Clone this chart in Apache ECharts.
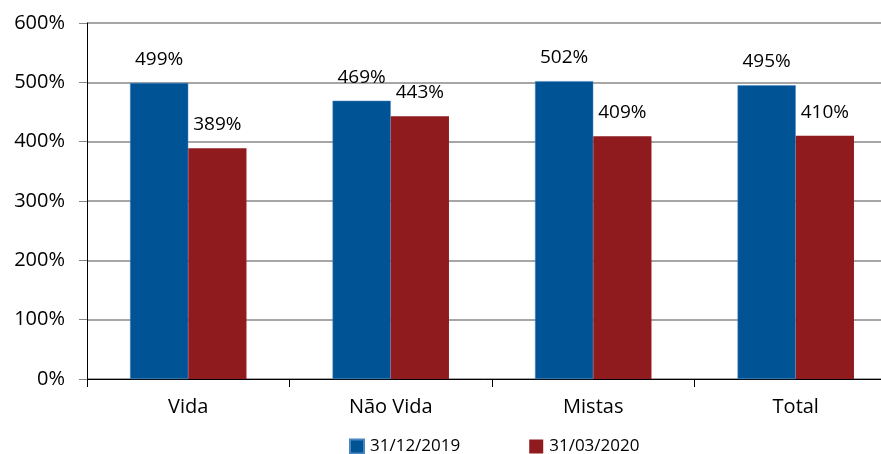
<!DOCTYPE html>
<html><head><meta charset="utf-8">
<script src="https://cdn.jsdelivr.net/npm/echarts@6/dist/echarts.min.js"></script>
<style>html,body{margin:0;padding:0;background:#fff}#c{width:881px;height:454px}</style>
</head><body><div id="c"></div>
<script>
var categories = ['Vida', 'Não Vida', 'Mistas', 'Total'];
var seriesNames = ['31/12/2019', '31/03/2020'];
var values2019 = [499, 469, 502, 495];
var values2020 = [389, 443, 409, 410];
var yTicks = [0, 100, 200, 300, 400, 500, 600];

var font = 'Open Sans';
var chart = echarts.init(document.getElementById('c'));
chart.setOption({
  animation: false,
  textStyle: {fontFamily: font},
  grid: {left: 87, width: 810, top: 23, bottom: 75, containLabel: false, outerBoundsMode: 'none'},
  legend: {
    bottom: -6, left: 344, itemWidth: 14, itemHeight: 14, itemGap: 69,
    icon: 'rect',
    textStyle: {fontFamily: font, fontSize: 17, color: '#000', padding: [0, 0, 0, 1]},
    data: seriesNames
  },
  xAxis: {
    type: 'category', data: categories,
    axisLine: {lineStyle: {color: '#000', width: 1}},
    axisTick: {show: true, length: 8, lineStyle: {color: '#000'}},
    axisLabel: {fontFamily: font, fontSize: 20, color: '#000', margin: 18}
  },
  yAxis: {
    type: 'value', min: yTicks[0], max: yTicks[yTicks.length - 1], interval: 100,
    axisLine: {show: true, lineStyle: {color: '#000', width: 1}},
    axisTick: {show: true, length: 8, lineStyle: {color: '#888'}},
    splitLine: {lineStyle: {color: '#888', width: 1.5}},
    axisLabel: {fontFamily: font, fontSize: 20, color: '#000', margin: 22, formatter: '{value}%'}
  },
  series: [
    {
      name: seriesNames[0], type: 'bar', data: values2019, barGap: '0%', barCategoryGap: '42.5%',
      itemStyle: {color: '#005496', borderColor: '#4a86c0', borderWidth: 0.5},
      label: {show: true, position: 'top', distance: 14, fontFamily: font, fontSize: 19, color: '#000', formatter: '{c}%'}
    },
    {
      name: seriesNames[1], type: 'bar', data: values2020,
      itemStyle: {color: '#8f1b1f'},
      label: {show: true, position: 'top', distance: 14, fontFamily: font, fontSize: 19, color: '#000', formatter: '{c}%'}
    }
  ]
});
</script></body></html>
